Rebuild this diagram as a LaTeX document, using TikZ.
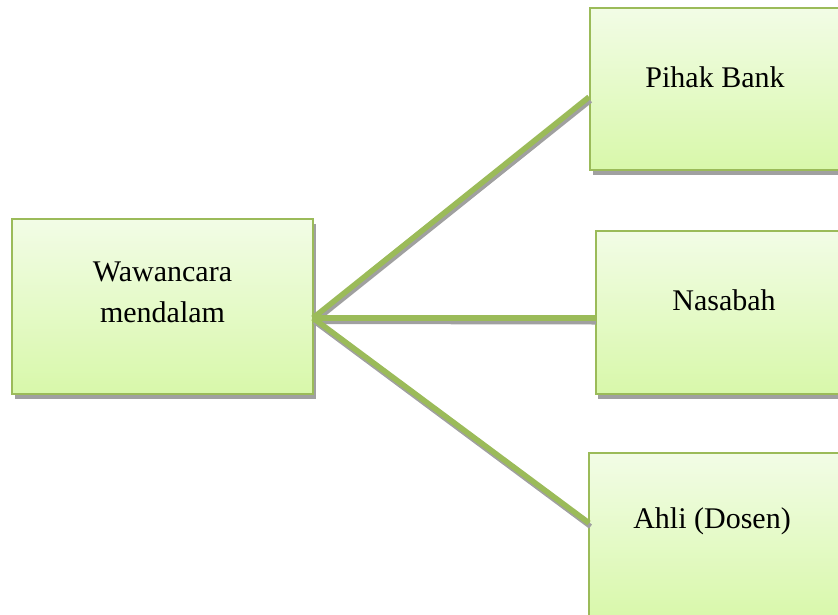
\documentclass[tikz,border=0pt]{standalone}
\usepackage{fontspec}
\setmainfont{Liberation Serif}
\usetikzlibrary{calc}
\definecolor{olivegreen}{HTML}{9BBB59}
\definecolor{boxtop}{HTML}{F2FCE6}
\definecolor{boxbot}{HTML}{D8F8AA}
\definecolor{shadowgray}{HTML}{A0A0A0}
\tikzset{
  box/.style={rectangle, draw=olivegreen, line width=2.2pt, top color=boxtop, bottom color=boxbot, inner sep=0pt},
  boxshadow/.style={rectangle, fill=shadowgray, inner sep=0pt},
  lbl/.style={font=\fontsize{30}{41}\selectfont, align=center, inner sep=0pt},
  conn/.style={draw=olivegreen, line width=5.5pt},
  connshadow/.style={draw=shadowgray, line width=5pt},
}
\begin{document}
\begin{tikzpicture}[x=1pt,y=-1pt]
\useasboundingbox (0,0) rectangle (838,614);
\clip (0,0) rectangle (838,614);
% shadows
\node[boxshadow, minimum width=301pt, minimum height=175pt] (lefts) at (165,311) {};
\node[boxshadow, minimum width=255pt, minimum height=162pt] (pihaks) at (720,93.5) {};
\node[boxshadow, minimum width=256pt, minimum height=163pt] (nasabahs) at (726,317) {};
% boxes
\node[box, minimum width=301pt, minimum height=175pt] (left) at (162.5,306.5) {};
\node[box, minimum width=255pt, minimum height=162pt] (pihak) at (717.5,89) {};
\node[box, minimum width=256pt, minimum height=163pt] (nasabah) at (724,312.5) {};
\node[box, minimum width=251pt, minimum height=167pt] (ahli) at (714.5,536.5) {};
% labels
\node[lbl] (lefttxt) at (162.5,292) {Wawancara\\mendalam};
\node[lbl] (pihaktxt) at (715,77) {Pihak Bank};
\node[lbl] (nasabahtxt) at (724,300) {Nasabah};
\node[lbl] (ahlitxt) at (712,521) {Ahli (Dosen)};
% connector ends
\coordinate (hub) at (313,318);
\coordinate (pe) at (589,97);
\coordinate (ne) at (596,318);
\coordinate (ae) at (589,523);
% connector shadows
\draw[connshadow] ($(hub)+(1.5,3.5)$) -- ($(pe)+(1.5,3.5)$);
\draw[connshadow] ($(hub)+(1.5,3.5)$) -- ($(ne)+(0,4)$);
\draw[connshadow] ($(hub)+(1.5,3.5)$) -- ($(ae)+(1.5,3.5)$);
% connectors
\draw[conn] (hub) -- (pe);
\draw[conn] (hub) -- (ne);
\draw[conn] (hub) -- (ae);
\end{tikzpicture}
\end{document}
